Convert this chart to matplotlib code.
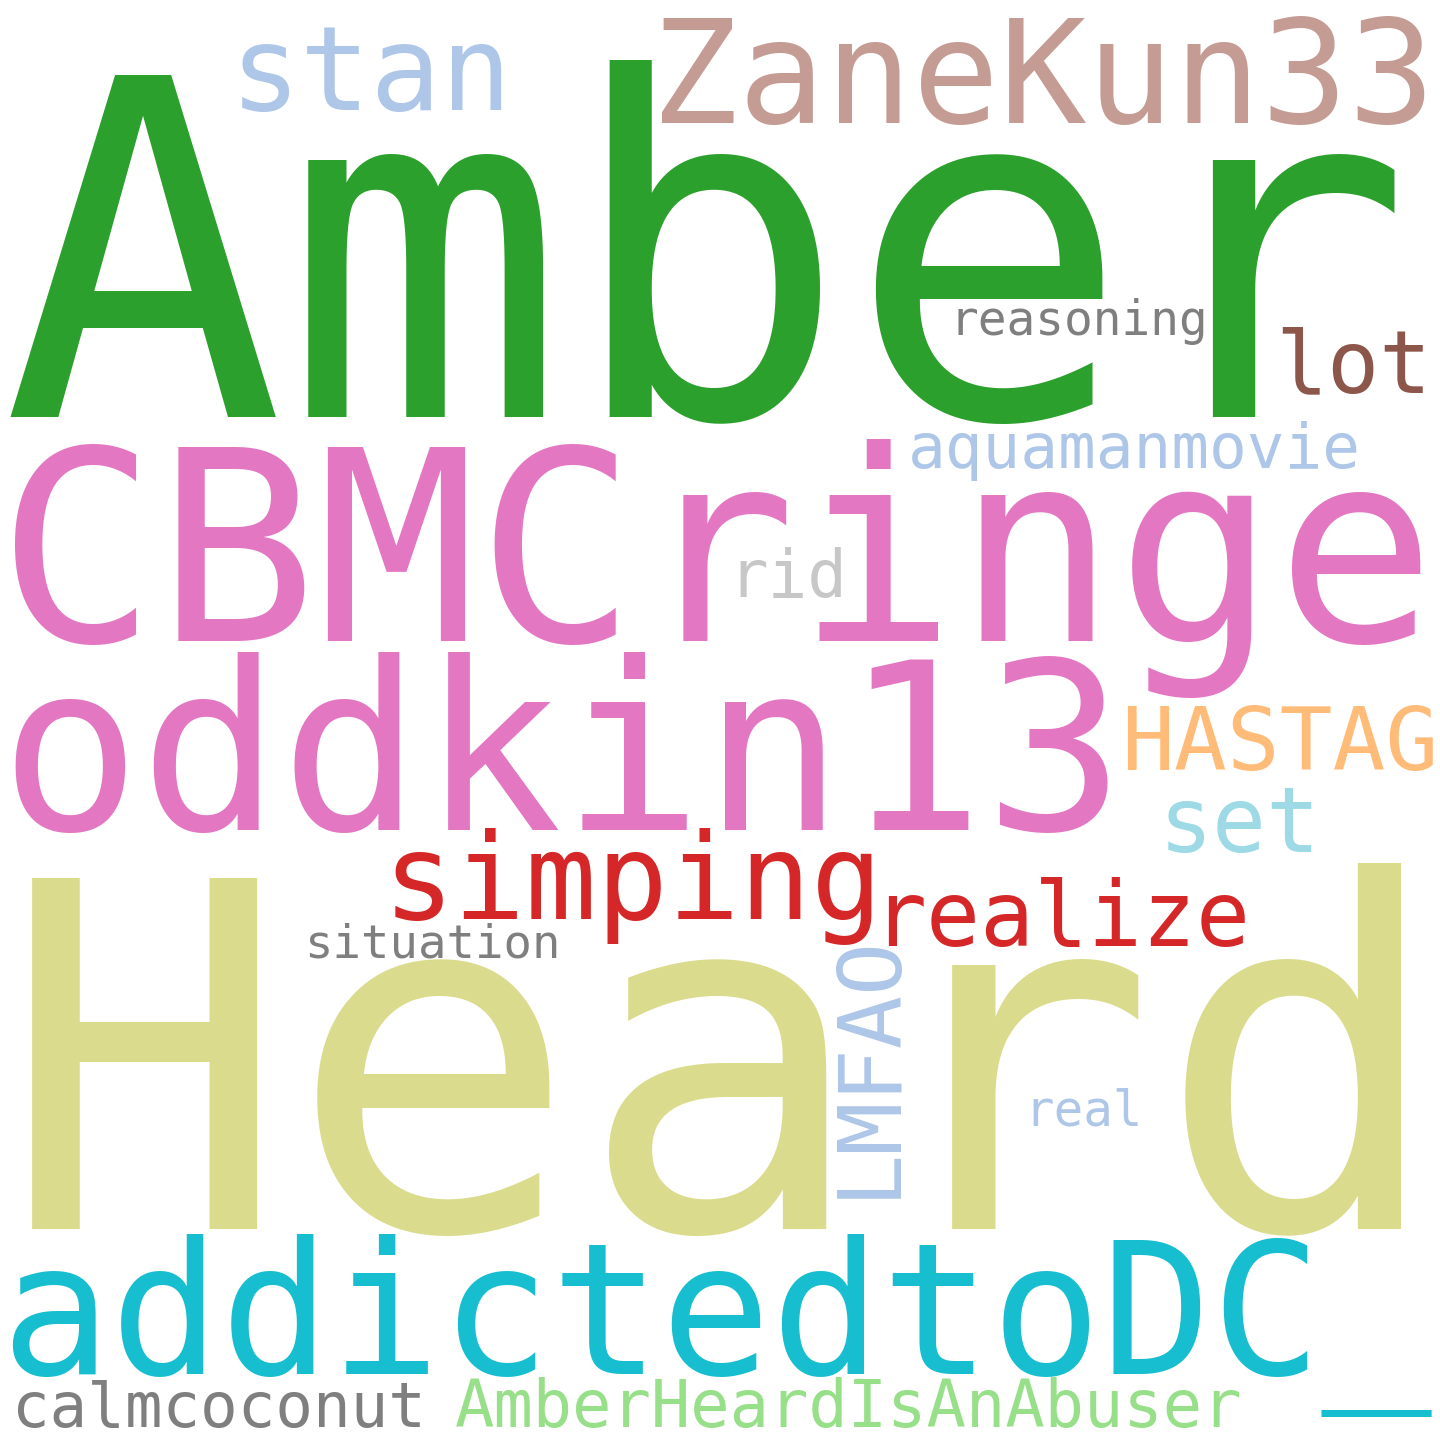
import matplotlib
matplotlib.use("Agg")
import matplotlib.pyplot as plt
from matplotlib.textpath import TextPath
from matplotlib.font_manager import FontProperties

# words of the cloud, biggest first
words = ["Amber", "Heard", "CBMCringe", "addictedtoDC_", "oddkin13", "ZaneKun33",
         "simping", "realize", "HASTAG", "AmberHeardIsAnAbuser", "aquamanmovie",
         "calmcoconut", "stan", "LMFAO", "lot", "set", "reasoning", "situation",
         "rid", "real"]
colors = ["#2ca02c", "#dbdb8d", "#e377c2", "#17becf", "#e377c2", "#c49c94",
          "#d62728", "#d62728", "#ffbb78", "#98df8a", "#aec7e8",
          "#7f7f7f", "#aec7e8", "#aec7e8", "#8c564b", "#9edae5", "#7f7f7f", "#7f7f7f",
          "#c7c7c7", "#aec7e8"]

# layout in pixels: ink left, ink right, baseline (vertical word: baseline x, bottom, top)
layout = {
    "Amber": (10, 1395, 417),
    "Heard": (32, 1402, 1229),
    "CBMCringe": (15, 1420, 641),
    "addictedtoDC_": (12, 1432, 1374),
    "oddkin13": (15, 1108, 830),
    "ZaneKun33": (662, 1424, 123),
    "simping": (395, 872, 919),
    "realize": (888, 1245, 946),
    "HASTAG": (1127, 1433, 770),
    "AmberHeardIsAnAbuser": (456, 1241, 1427),
    "aquamanmovie": (912, 1357, 468),
    "calmcoconut": (18, 420, 1427),
    "stan": (242, 502, 110),
    "LMFAO": (893, 1207, 955),
    "lot": (1282, 1423, 392),
    "set": (1168, 1312, 852),
    "reasoning": (958, 1204, 335),
    "situation": (309, 556, 957),
    "rid": (740, 841, 597),
    "real": (1033, 1138, 1125),
}
vertical = {"LMFAO"}

W = H = 1440
DPI = 100
FONT = "DejaVu Sans Mono"
fp = FontProperties(family=FONT)

fig = plt.figure(figsize=(W / DPI, H / DPI), dpi=DPI)
fig.patch.set_facecolor("white")
ax = fig.add_axes([0, 0, 1, 1])
ax.set_xlim(0, W)
ax.set_ylim(H, 0)
ax.axis("off")

for word, col in zip(words, colors):
    a, b, c = layout[word]
    ext = TextPath((0, 0), word, size=100, prop=fp).get_extents()
    if word in vertical:
        span = a - 0, b - c
        em = (b - c) * 100.0 / ext.width
        off = ext.x0 * em / 100.0
        ax.text(a, b - off, word, fontsize=em * 72.0 / DPI, family=FONT,
                color=col, rotation=90, rotation_mode="anchor",
                ha="left", va="baseline")
    else:
        em = (b - a) * 100.0 / ext.width
        off = ext.x0 * em / 100.0
        ax.text(a - off, c, word, fontsize=em * 72.0 / DPI, family=FONT,
                color=col, ha="left", va="baseline")

fig.savefig("out.png", dpi=DPI, facecolor="white")
